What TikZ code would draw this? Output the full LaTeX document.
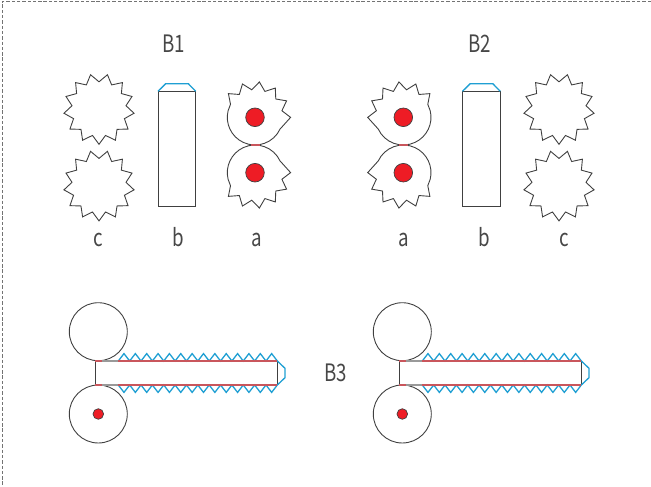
\documentclass[tikz,border=0pt]{standalone}
\usepackage{fontspec}
\newfontfamily\lblfont[FakeStretch=0.78]{Noto Sans CJK JP}
\definecolor{ln}{HTML}{404040}
\definecolor{bluecap}{HTML}{1F9FD3}
\definecolor{redline}{HTML}{C9565C}
\definecolor{dotred}{HTML}{EE1C25}
\tikzset{
  outline/.style={draw=ln,line width=0.9pt,line join=miter},
  capline/.style={draw=bluecap,line width=1.3pt,line join=miter},
  redseg/.style={draw=redline,line width=1.5pt},
  greyseg/.style={draw=black!40,line width=1.1pt},
  dot/.style={draw=ln,line width=0.7pt,fill=dotred},
  lbl/.style={font=\lblfont\fontsize{24}{26}\selectfont,text=black!72,inner sep=0pt,anchor=base},
  frameline/.style={draw=black!55,line width=0.9pt,dash pattern=on 3.4pt off 1.9pt}
}
% star: centre x,y
\newcommand{\starshape}[2]{%
  \draw[outline] plot[samples at={0,...,25},variable=\k]
    ({#1+(mod(\k,2)==0?35.3:27.2)*cos(-90+\k*13.846)},{#2-(mod(\k,2)==0?35.3:27.2)*sin(-90+\k*13.846)}) -- cycle;}
% toothed wheel: centre x,y, sx (+1 tip right), sy (+1 teeth up)
\newcommand{\wheel}[4]{%
  \begin{scope}[shift={(#1,#2)},xscale=#3,yscale=#4]
    \draw[outline] (25:27.7) arc[start angle=25,end angle=194,radius=27.7]
      -- plot[samples at={1,...,12},variable=\k]
      ({(mod(\k,2)==0?35.6:27.7)*cos(166-\k*13.846)},{-(mod(\k,2)==0?35.6:27.7)*sin(166-\k*13.846)})
      -- cycle;
    \draw[dot] (0,0) circle[radius=9.3];
  \end{scope}}
% rolled blank: x offset
\newcommand{\rolled}[1]{%
  \begin{scope}[xshift=#1pt]
    \draw[outline] (98.3,331.7) circle[radius=29];
    \draw[outline] (98.3,414) circle[radius=29];
    \draw[dot] (98.3,414) circle[radius=5.3];
    \draw[greyseg] (101.7,361) -- (118.3,361);
    \draw[greyseg] (101.7,385) -- (118.3,385);
    \draw[outline] (95.3,361) -- (95.3,385);
    \draw[outline] (277.3,361) -- (277.3,385);
    \draw[capline] plot[samples at={0,...,28},variable=\k] ({118.3+\k*5.68},{361-7.4*mod(\k,2)})
      -- (285,368.3) -- (285,377.7) -- (277.3,385)
      -- plot[samples at={27,26,...,0},variable=\k] ({118.3+\k*5.68},{385+7.4*mod(\k,2)});
    \draw[redseg] (95.3,361) -- (101.7,361);
    \draw[redseg] (95.3,385) -- (101.7,385);
    \draw[redseg] (118.3,361) -- (277.3,361);
    \draw[redseg] (118.3,385) -- (277.3,385);
  \end{scope}}
\begin{document}
\begin{tikzpicture}[x=1pt,y=-1pt]
  \useasboundingbox (0,0) rectangle (651,487);
  \draw[frameline] (651,1.2) -- (2.4,1.2) -- (2.4,487);
  \node[lbl] (tb1) at (174,53) {B1};
  \node[lbl] (tb2) at (480,53) {B2};
  \node[lbl] (tb3) at (336,381) {B3};
  \node[lbl] (tc1) at (98,246.5) {c};
  \node[lbl] (tb4) at (178,246.5) {b};
  \node[lbl] (ta1) at (256.5,246.5) {a};
  \node[lbl] (ta2) at (404,246.5) {a};
  \node[lbl] (tb5) at (484,246.5) {b};
  \node[lbl] (tc2) at (564,246.5) {c};
  \starshape{99}{109}
  \starshape{99}{185.6}
  \starshape{559}{109}
  \starshape{559}{185.6}
  \draw[outline] (158,91.3) rectangle (195.7,206);
  \draw[capline] (158,91.3) -- (165.7,83.7) -- (188.3,83.7) -- (195.7,91.3);
  \draw[outline] (462.5,91.3) rectangle (500.3,206);
  \draw[capline] (462.5,91.3) -- (470.2,83.7) -- (492.8,83.7) -- (500.3,91.3);
  \wheel{255}{117.3}{1}{1}
  \wheel{255}{172.7}{1}{-1}
  \wheel{403.3}{117.3}{-1}{1}
  \wheel{403.3}{172.7}{-1}{-1}
  \draw[redseg] (250.5,145) -- (259.5,145);
  \draw[redseg] (398.8,145) -- (407.8,145);
  \rolled{0}
  \rolled{304}
\end{tikzpicture}
\end{document}
